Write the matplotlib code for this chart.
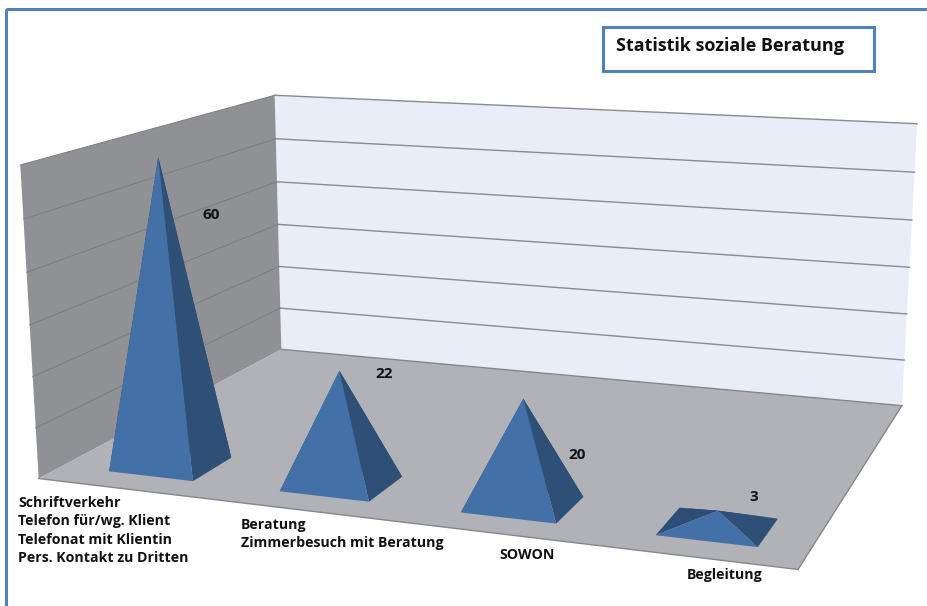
import matplotlib
matplotlib.use("Agg")
import matplotlib.pyplot as plt
import numpy as np
from matplotlib.patches import Polygon, Rectangle

categories = ["Schriftverkehr\nTelefon für/wg. Klient\nTelefonat mit Klientin\nPers. Kontakt zu Dritten",
              "Beratung\nZimmerbesuch mit Beratung",
              "SOWON",
              "Begleitung"]
values = [60, 22, 20, 3]
grid_values = [0, 10, 20, 30, 40, 50, 60]
title = "Statistik soziale Beratung"

# layout: picture positions of the box corners (u across, d depth, v value)
box_3d = [(0, 0, 0), (1, 0, 0), (0, 1, 0), (1, 1, 0), (0, 0, 60), (0, 1, 60), (1, 1, 60)]
box_px = [(39, 478), (798, 570), (281, 350), (902, 405), (20, 165), (275, 95), (917, 124)]
cat_u = [0.133, 0.3815, 0.629, 0.878]
half_u = 0.062
d_lo, d_hi = 0.08, 0.23
cat_xy = [(18, 496), (241, 518), (499, 548), (687, 568)]
val_xy = [(211, 215), (384, 374), (577, 455), (754, 497)]
font = "Open Sans"

# solve the projection from the box corners
A = []
b = []
for (u, d, v), (px, py) in zip(box_3d, box_px):
    A.append([u, d, v, 1, 0, 0, 0, 0, -px*u, -px*d, -px*v])
    b.append(px)
    A.append([0, 0, 0, 0, u, d, v, 1, -py*u, -py*d, -py*v])
    b.append(py)
h = np.linalg.lstsq(np.array(A, float), np.array(b, float), rcond=None)[0]
P = np.append(h, 1).reshape(3, 4)


def proj(u, d, v):
    x, y, w = P @ np.array([u, d, v, 1.0])
    return x/w, y/w


fig = plt.figure(figsize=(9.27, 6.06), dpi=100)
ax = fig.add_axes([0, 0, 1, 1])
ax.set_xlim(0, 927)
ax.set_ylim(606, 0)
ax.axis("off")

# outer frame runs off the picture
ax.add_patch(Rectangle((6, 9), 1000, 700, fill=False, ec="#4f81bd", lw=2.2))


def face(pts, col, ec="none", lw=0, z=2):
    ax.add_patch(Polygon([proj(*p) for p in pts], closed=True, fc=col, ec=ec, lw=lw, zorder=z))


top = grid_values[-1]
face([(0, 1, 0), (1, 1, 0), (1, 1, top), (0, 1, top)], "#e8edf8")
face([(0, 0, 0), (0, 1, 0), (0, 1, top), (0, 0, top)], "#8f9194")
face([(0, 0, 0), (1, 0, 0), (1, 1, 0), (0, 1, 0)], "#b0b2b7", z=3)

# floor edges, only the front ones read dark in the picture
for a, c in [((0, 0, 0), (1, 0, 0)), ((1, 0, 0), (1, 1, 0)), ((0, 1, 0), (1, 1, 0))]:
    p, q = proj(*a), proj(*c)
    ax.plot([p[0], q[0]], [p[1], q[1]], color="#85878b", lw=1.0, zorder=3.5)

for g in grid_values[1:]:
    p0, p1, p2 = proj(0, 0, g), proj(0, 1, g), proj(1, 1, g)
    ax.plot([p1[0], p2[0]], [p1[1], p2[1]], color="#8c8a8a", lw=1.0, zorder=2.5)
    ax.plot([p0[0], p1[0]], [p0[1], p1[1]], color="#7f7b7d", lw=0.7, zorder=2.5)

for uc, val in zip(cat_u, values):
    bl = (uc-half_u, d_hi, 0)
    br = (uc+half_u, d_hi, 0)
    fl = (uc-half_u, d_lo, 0)
    fr = (uc+half_u, d_lo, 0)
    apex = (uc, (d_lo+d_hi)/2, val)
    face([bl, br, apex], "#2a4a70", z=4)
    face([bl, fl, apex], "#2c4d75", z=4)
    face([br, fr, apex], "#2e5077", z=4)
    face([fl, fr, apex], "#4470a8", z=4)

for (x, y), txt in zip(cat_xy, categories):
    ax.text(x, y, txt, fontsize=10.2, fontweight="bold", family=font, ha="left", va="top",
            linespacing=1.4, color="#111111", zorder=6)

for (x, y), val in zip(val_xy, values):
    ax.text(x, y, str(val), fontsize=11, fontweight="bold", family=font, ha="center", va="center",
            color="#111111", zorder=6)

ax.add_patch(Rectangle((603, 27), 271, 44, fc="white", ec="#4f81bd", lw=2.2, zorder=6))
ax.text(616, 46, title, fontsize=13, fontweight="bold", family=font, ha="left", va="center",
        color="#111111", zorder=7)

fig.savefig("out.png", dpi=100)
